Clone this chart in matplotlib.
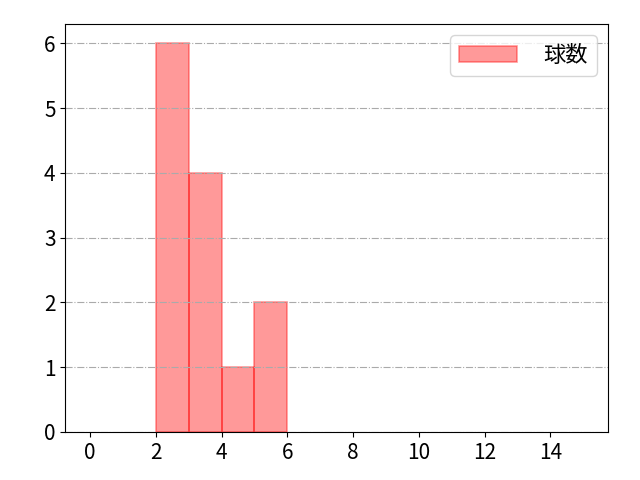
import matplotlib
matplotlib.use("Agg")
import matplotlib.pyplot as plt

plt.rcParams['font.family'] = ['Noto Sans CJK JP', 'DejaVu Sans']

# 球数の度数分布 (ビン幅 1)
bin_left = [2, 3, 4, 5]
counts = [6, 4, 1, 2]
xticks = [0, 2, 4, 6, 8, 10, 12, 14]

fig, ax = plt.subplots(figsize=(6.4, 4.8), dpi=100)
ax.bar(bin_left, counts, width=1, align='edge', color='red', alpha=0.4,
       edgecolor='red', linewidth=1.2, label='球数')
ax.set_xlim(-0.75, 15.75)
ax.set_ylim(0, 6.3)
ax.set_xticks(xticks)
ax.tick_params(labelsize=15)
ax.grid(True, axis='y', linestyle='-.', color='#aaaaaa')
ax.legend(loc='upper right', fontsize=16, handlelength=2.6, handletextpad=1.2)
fig.subplots_adjust(left=0.102, right=0.95, top=0.95, bottom=0.1)
plt.savefig("out.png")
plt.close()
